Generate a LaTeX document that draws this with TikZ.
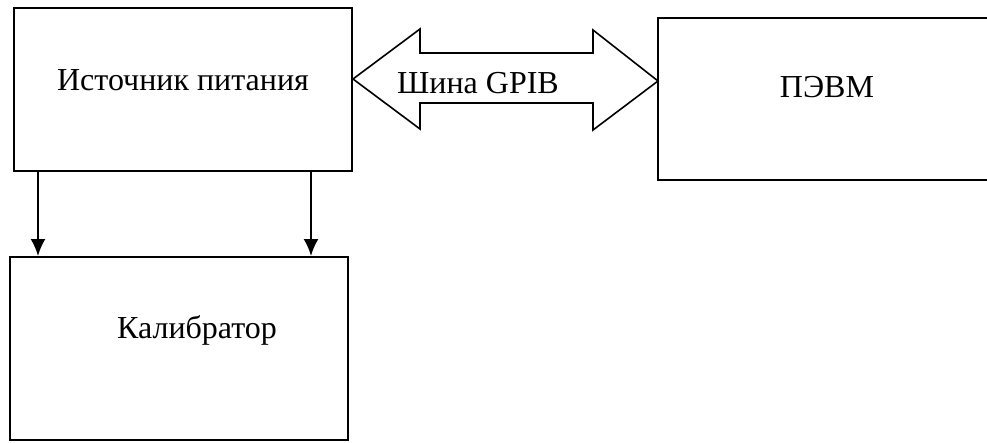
\documentclass[tikz,border=0pt]{standalone}
\usepackage{fontspec}
\setmainfont{Liberation Serif}
\usetikzlibrary{arrows.meta}
\begin{document}
\begin{tikzpicture}[x=1pt,y=-1pt,
  blk/.style={draw, line width=2pt, inner sep=0pt},
  lbl/.style={font=\fontsize{32}{38}\selectfont, inner sep=0pt},
  conn/.style={line width=2pt, -{Latex[length=17pt,width=15pt]}},
  bus/.style={draw, line width=1.6pt, line join=miter}]
\useasboundingbox (0,0) rectangle (987,442);
\node[blk, minimum width=338pt, minimum height=163pt] (A) at (183,89.5) {};
\node[lbl] (Atext) at (183,80) {Источник питания};
\node[blk, minimum width=338pt, minimum height=183pt] (B) at (179,348.5) {};
\node[lbl] (Btext) at (197,330) {Калибратор};
\begin{scope}
  \clip (0,0) rectangle (987,442);
  \coordinate (Cnw) at (658,18);
  \coordinate (Csw) at (658,180);
  \draw[line width=2pt] (995,18) -- (Cnw) -- (Csw) -- (995,180);
\end{scope}
\node[lbl] (Ctext) at (827,87) {ПЭВМ};
\coordinate (Ltip) at (A.east |- 0,79);
\coordinate (Rtip) at (Cnw |- 0,81);
\draw[bus] (Ltip) -- (420,29) -- (420,53) -- (593,53) -- (593,30) -- (Rtip)
  -- (593,130) -- (593,103) -- (420,103) -- (420,129) -- cycle;
\node[lbl] (bus) at (478,83) {Шина GPIB};
\draw[conn] ([xshift=25pt]A.south west) -- ([xshift=25pt]A.south west |- B.north);
\draw[conn] ([xshift=298pt]A.south west) -- ([xshift=298pt]A.south west |- B.north);
\end{tikzpicture}
\end{document}
